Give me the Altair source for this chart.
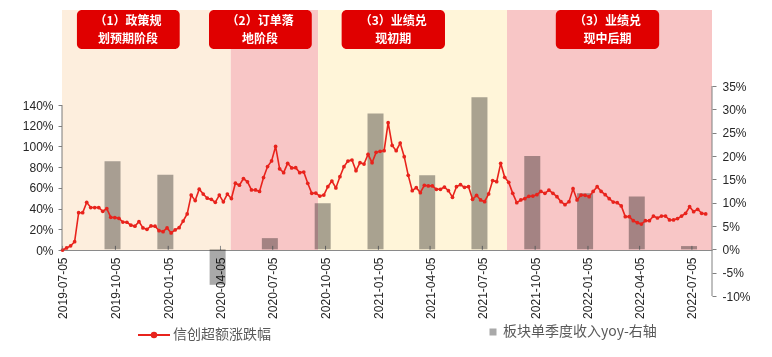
import altair as alt
import pandas as pd

# ---------------- data ----------------
excess_dates = pd.date_range("2019-07-05", periods=161, freq="7D").strftime("%Y-%m-%d").tolist()
excess_pct = [
    0, 2, 4, 8, 36, 36, 46, 41, 41, 41, 37.4, 40, 31.6, 31.3, 30.6, 27, 26.8, 24, 23, 27.4,
    21.3, 20, 23.2, 23, 18.7, 17.7, 21.3, 16.5, 19.4, 21.6, 28, 34.8, 53, 47.7, 58.7, 54, 50, 49, 46, 53,
    46.5, 54, 49.7, 64.5, 62.6, 69, 65.8, 58, 58, 56.5, 70, 80.6, 86, 100, 78.4,
    74.7, 83.7, 79.2, 79.5, 74.7, 75.3, 64.4, 54.7, 55, 52.1, 53, 61.1, 66.6, 59.9, 70.8, 80.5,
    85.9, 86.9, 76.6, 84.3, 83, 92.4, 84.3, 94.3, 95.3, 95.9, 122.9, 101, 95.9, 103.3, 90.1, 72.1,
    57.3, 60.2, 55.4, 62.5, 61.9, 61.9, 58.6, 58.6, 60.8, 57.3, 50.9, 61.1, 63.1, 60.5, 61.1, 49,
    52.8, 48.3, 46.7, 54.1, 67, 66, 83.7,
    70.2, 65.3, 54.7, 45.7, 48.3, 49.6, 51.8, 52.1, 53.4, 56.6, 54.7, 57.9, 54.7, 51.5, 46.7, 43.8,
    46.7, 59.2, 48.3, 53.1, 52.8, 51.5, 56.6, 61.1, 56.6, 53.4, 49.6, 46.3, 45.7, 42.5, 32.2, 32.2,
    28.3, 26.4, 25.1, 28.3, 28.3, 32.8, 30.9, 32.8, 32.8, 29, 29, 30.3, 32.8, 35.4, 41.8, 37, 39.3,
    35.4, 34.8,
]

rev_dates = ["2019-09-30", "2019-12-31", "2020-03-31", "2020-06-30", "2020-09-30", "2020-12-31",
             "2021-03-31", "2021-06-30", "2021-09-30", "2021-12-31", "2022-03-31", "2022-06-30"]
rev_yoy = [18.9, 16.0, -7.6, 2.4, 9.9, 29.1, 15.9, 32.6, 20.0, 12.0, 11.3, 0.7]

phase_start = ["2019-07-04", "2020-04-23", "2020-09-22", "2021-08-17"]
phase_end = ["2020-04-23", "2020-09-22", "2021-08-17", "2022-08-09"]
phase_color = ["#fdeedd", "#f8c6c6", "#fff5d9", "#f8c6c6"]

label_start = ["2019-07-30", "2020-03-16", "2020-11-02", "2021-11-10"]
label_end = ["2020-01-25", "2020-09-11", "2021-05-01", "2022-05-09"]
label_line1 = ["（1）政策规", "（2）订单落", "（3）业绩兑", "（3）业绩兑"]
label_line2 = ["划预期阶段", "地阶段", "现初期", "现中后期"]

tick_dates = ["2019-07-05", "2019-10-05", "2020-01-05", "2020-04-05", "2020-07-05", "2020-10-05",
              "2021-01-05", "2021-04-05", "2021-07-05", "2021-10-05", "2022-01-05", "2022-04-05",
              "2022-07-05"]
left_ticks = [0, 20, 40, 60, 80, 100, 120, 140]
right_ticks = [-10, -5, 0, 5, 10, 15, 20, 25, 30, 35]

line_name = "信创超额涨跌幅"
bar_name = "板块单季度收入yoy-右轴"

# ------------- helpers / scales -------------
def dt(s):
    y, m, d = map(int, s.split("-"))
    return alt.DateTime(year=y, month=m, date=d, utc=True)

X_SCALE = alt.Scale(type="utc", domain=[dt("2019-07-04"), dt("2022-08-09")], padding=0)
LEFT = alt.Scale(domain=[-44.41, 231.73], nice=False, zero=False)
RIGHT = alt.Scale(domain=[-10, 51.29], nice=False, zero=False)
BOX_LOW, BOX_HIGH = 194.1, 231.73
TXT1, TXT2 = 221.1, 204.2

X_AXIS = alt.Axis(values=[dt(s) for s in tick_dates], format="%Y-%m-%d", labelAngle=270,
                  ticks=False, offset=-46, labelPadding=7, title=None, grid=False,
                  labelOverlap=False, labelFlush=False, domainColor="#8a8a8a")

LEFT_AXIS = alt.Axis(orient="left", values=left_ticks, labelExpr="datum.value + '%'",
                     domain=False, tickSize=4, labelPadding=5, title=None, grid=False)
RIGHT_AXIS = alt.Axis(orient="right", values=right_ticks, labelExpr="datum.value + '%'",
                      domain=False, tickSize=4, labelPadding=6, title=None, grid=False)

def X(field):
    return alt.X(f"{field}:T", scale=X_SCALE, axis=X_AXIS)

line_df = pd.DataFrame({"date": excess_dates, "value": excess_pct, "series": line_name})
bar_df = pd.DataFrame({"date": rev_dates, "value": rev_yoy, "zero": 0, "series": bar_name})
phase_df = pd.DataFrame({"start": phase_start, "end": phase_end, "color": phase_color,
                         "y0": 0, "y1": BOX_HIGH})
sd = pd.to_datetime(pd.Series(label_start))
ed = pd.to_datetime(pd.Series(label_end))
box_df = pd.DataFrame({"start": label_start, "end": label_end,
                       "t1": label_line1, "t2": label_line2,
                       "mid": (sd + (ed - sd) / 2).dt.strftime("%Y-%m-%d"),
                       "y0": BOX_LOW, "y1": BOX_HIGH, "ya": TXT1, "yb": TXT2})
tick_df = pd.DataFrame({"date": tick_dates, "y0": 0, "y1": 4})
laxis_df = pd.DataFrame({"y0": [left_ticks[0]], "y1": [left_ticks[-1]]})
raxis_df = pd.DataFrame({"y0": [right_ticks[0]], "y1": [right_ticks[-1]]})

# ------------- child A: backgrounds (left scale, no axis) -------------
bg = alt.Chart(phase_df).mark_rect().encode(
    x=X("start"), x2="end:T",
    y=alt.Y("y0:Q", scale=LEFT, axis=None), y2="y1:Q",
    color=alt.Color("color:N", scale=None, legend=None),
)
xticks = alt.Chart(tick_df).mark_rule(color="#8a8a8a", strokeWidth=1).encode(
    x=X("date"), y=alt.Y("y0:Q", scale=LEFT, axis=None), y2="y1:Q")
childA = alt.layer(bg, xticks)

# ------------- child B: bars (right scale) -------------
bars = alt.Chart(bar_df).mark_bar(size=16, blend="multiply").encode(
    x=X("date"),
    y=alt.Y("value:Q", scale=RIGHT, axis=RIGHT_AXIS),
    y2="zero:Q",
    fill=alt.Fill("series:N", scale=alt.Scale(domain=[bar_name], range=["#a9a9a9"]),
                  legend=alt.Legend(orient="none", legendX=424, legendY=315, title=None,
                                    symbolType="square", symbolSize=49, symbolStrokeWidth=0,
                                    labelOffset=3)),
)
raxis = alt.Chart(raxis_df).mark_rule(color="#808080").encode(
    x=alt.value(650), y=alt.Y("y0:Q", scale=RIGHT, axis=RIGHT_AXIS), y2="y1:Q")
childB = alt.layer(bars, raxis)

# ------------- child C: line + annotations (left scale) -------------
RED = "#e8231c"
line = alt.Chart(line_df).mark_line(strokeWidth=1.6).encode(
    x=X("date"),
    y=alt.Y("value:Q", scale=LEFT, axis=LEFT_AXIS),
    color=alt.Color("series:N", scale=alt.Scale(domain=[line_name], range=[RED]),
                    legend=alt.Legend(orient="none", legendX=75, legendY=308, title=None,
                                      symbolType="M-1,0L1,0M-0.14,0A0.14,0.14,0,1,0,0.14,0A0.14,0.14,0,1,0,-0.14,0Z",
                                      symbolSize=1024, symbolStrokeWidth=2,
                                      symbolFillColor=RED, labelOffset=2)),
)
pts = alt.Chart(line_df).mark_circle(size=14, color=RED, opacity=1).encode(
    x=X("date"), y=alt.Y("value:Q", scale=LEFT, axis=LEFT_AXIS))
laxis = alt.Chart(laxis_df).mark_rule(color="#7a7a7a").encode(
    x=alt.value(0), y=alt.Y("y0:Q", scale=LEFT, axis=LEFT_AXIS), y2="y1:Q")
boxes = alt.Chart(box_df).mark_rect(color="#e00000", cornerRadius=5).encode(
    x=X("start"), x2="end:T", y=alt.Y("y0:Q", scale=LEFT, axis=LEFT_AXIS), y2="y1:Q")
txt_style = dict(color="white", font="Noto Sans CJK SC", fontWeight="bold", fontSize=12,
                 align="center", baseline="middle")
text1 = alt.Chart(box_df).mark_text(**txt_style).encode(
    x=X("mid"), y=alt.Y("ya:Q", scale=LEFT, axis=LEFT_AXIS), text="t1:N")
text2 = alt.Chart(box_df).mark_text(**txt_style).encode(
    x=X("mid"), y=alt.Y("yb:Q", scale=LEFT, axis=LEFT_AXIS), text="t2:N")
childC = alt.layer(line, pts, laxis, boxes, text1, text2)

chart = alt.layer(childA, childB, childC).resolve_scale(
    y="independent", color="independent", fill="independent"
).properties(
    width=650, height=286,
    padding={"left": 54, "top": 2, "right": 42, "bottom": 49},
    autosize=alt.AutoSizeParams(type="none"),
).configure_view(stroke=None).configure_axis(
    labelFont="Liberation Sans", labelFontSize=12, labelColor="#262626",
    domainColor="#808080", tickColor="#808080",
).configure_legend(
    labelFont="Noto Sans CJK SC", labelFontSize=14, labelColor="#595959",
)

chart.save("out.html", embed_options={"renderer": "svg", "actions": False})
